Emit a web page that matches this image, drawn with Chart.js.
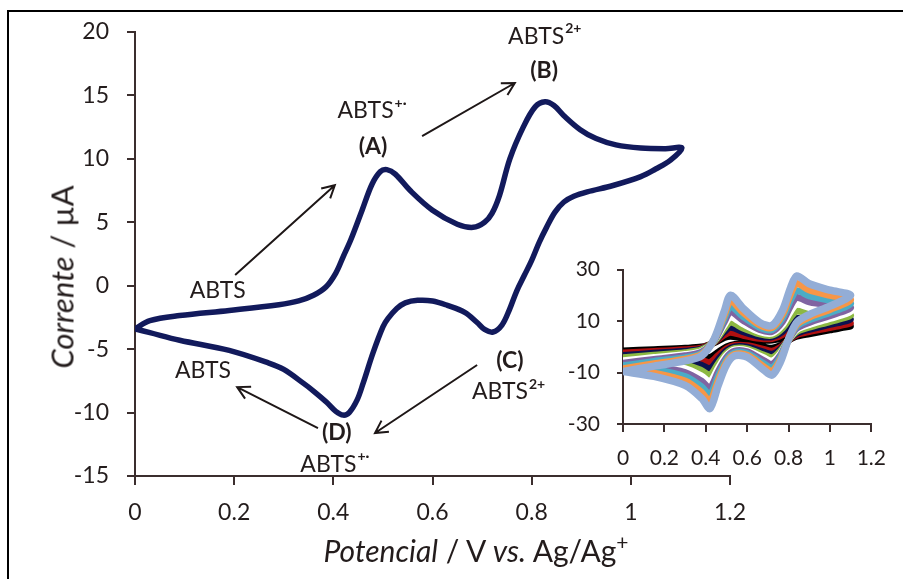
<!DOCTYPE html>
<html>
<head>
<meta charset="utf-8">
<title>Voltametria cíclica ABTS</title>
<script src="https://cdn.jsdelivr.net/npm/chart.js@4.4.0/dist/chart.umd.min.js"></script>
<style>
  body { margin: 0; background: #fff; }
  #wrap { position: relative; width: 903px; height: 579px; overflow: hidden; font-family: Lato, sans-serif; color: #231c1c; }
  #frame { position: absolute; left: 7px; top: 10px; width: 1000px; height: 700px; border: 2px solid #000; }
  canvas { position: absolute; }
  #cvChart { left: 0; top: 0; }
  #insetChart { left: 560px; top: 240px; }
  .axis-title { position: absolute; white-space: nowrap; line-height: 1; }
  #xTitle { left: 476px; top: 535px; font-size: 30px; transform: translateX(-50%); }
  #yTitle { left: 62px; top: 277px; font-size: 31px; transform: translate(-50%, -50%) rotate(-90deg); }
  .axis-title sup { font-size: 0.7em; vertical-align: 0.55em; line-height: 0; }
</style>
</head>
<body>
<div id="wrap">
  <div id="frame"></div>
  <canvas id="cvChart" width="903" height="579"></canvas>
  <canvas id="insetChart" width="340" height="240"></canvas>
  <div id="xTitle" class="axis-title"><i>Potencial</i> / V <i>vs.</i> Ag/Ag<sup>+</sup></div>
  <div id="yTitle" class="axis-title"><i>Corrente</i> / µA</div>
</div>
<script>
// main voltammogram: forward sweep 0 -> 1.1 V, then back to 0 V
const cvPotential = [
  0, 0.03, 0.09, 0.19, 0.29, 0.33, 0.36, 0.385, 0.405, 0.42,
  0.435, 0.458, 0.478, 0.495, 0.508, 0.525, 0.555, 0.6, 0.65, 0.682,
  0.705, 0.72, 0.735, 0.756, 0.783, 0.807, 0.827, 0.845, 0.865, 0.898,
  0.93, 0.97, 1.02, 1.07, 1.103,
  1.08, 1.05, 1.02, 0.964, 0.912, 0.885, 0.865, 0.847, 0.83, 0.815,
  0.8, 0.785, 0.77, 0.755, 0.74, 0.722, 0.705, 0.69, 0.665, 0.63,
  0.6, 0.57, 0.545, 0.528, 0.51, 0.5, 0.48, 0.46, 0.448, 0.432,
  0.42, 0.405, 0.387, 0.36, 0.34, 0.3, 0.27, 0.19, 0.09, 0.03, 0
];
const cvCurrent = [
  -3.4, -2.75, -2.35, -1.95, -1.5, -1.2, -0.75, -0.1, 1.0, 2.3,
  3.6, 5.95, 8.0, 9.0, 9.15, 8.8, 7.5, 5.95, 4.85, 4.6,
  5.0, 5.7, 7.1, 10.0, 12.5, 14.1, 14.5, 14.2, 13.4, 12.3,
  11.6, 11.1, 10.85, 10.8, 10.85,
  9.9, 9.2, 8.6, 7.9, 7.4, 7.05, 6.6, 5.8, 4.6, 3.4,
  2.0, 0.8, -0.4, -1.9, -3.1, -3.65, -3.45, -2.9, -2.1, -1.55,
  -1.2, -1.15, -1.35, -1.8, -2.6, -3.25, -5.3, -7.7, -9.0, -10.0,
  -10.2, -9.9, -9.2, -8.3, -7.7, -6.6, -6.1, -5.1, -4.3, -3.7, -3.4
];

// inset: one cycle per scan rate, all sampled on the same potentials
const insetPotential = [
  0, 0.15, 0.3, 0.38, 0.44, 0.49, 0.52, 0.58, 0.66, 0.72, 0.77, 0.81, 0.84, 0.9, 1.0, 1.1,
  1.0, 0.9, 0.84, 0.8, 0.76, 0.72, 0.68, 0.6, 0.54, 0.5, 0.46, 0.42, 0.38, 0.3, 0.15, 0
];
const insetLightBlue = [
  -9.6, -7.5, -5.5, -3.5, 3, 14, 20, 15, 9.5, 8.3, 14, 23, 27.5, 24.5, 22, 20,
  15.8, 12.5, 9.5, 3, -6, -11, -9, -4, -3.5, -7, -15, -24, -20, -15, -11.5, -9.6
];
const insetOrange = [
  -8.5, -6.6, -4.8, -3.0, 2.8, 12.5, 17.8, 13.4, 8.5, 7.5, 12.5, 20.6, 24.6, 22.1, 20.0, 18.3,
  14.5, 11.5, 8.7, 2.9, -5.1, -9.5, -7.7, -3.3, -2.9, -6.0, -13.2, -21.2, -17.7, -13.3, -10.2, -8.5
];
const insetTeal = [
  -7.4, -5.7, -4.2, -2.6, 2.6, 11.2, 15.7, 11.8, 7.6, 6.7, 11.2, 18.3, 21.8, 19.8, 18.1, 16.8,
  13.3, 10.5, 8.0, 2.9, -4.2, -8.2, -6.6, -2.6, -2.3, -5.1, -11.5, -18.6, -15.6, -11.6, -8.9, -7.4
];
const insetPurple = [
  -6.4, -4.9, -3.5, -2.1, 2.4, 9.8, 13.6, 10.3, 6.7, 6.0, 9.8, 16.0, 19.1, 17.5, 16.2, 15.2,
  12.1, 9.5, 7.3, 2.8, -3.4, -6.8, -5.4, -2.0, -1.7, -4.2, -9.8, -16.0, -13.4, -10.0, -7.7, -6.4
];
const insetWhite = [
  -5.3, -4.1, -2.9, -1.7, 2.2, 8.4, 11.5, 8.8, 5.8, 5.2, 8.4, 13.7, 16.4, 15.2, 14.3, 13.6,
  10.9, 8.5, 6.6, 2.7, -2.6, -5.4, -4.2, -1.4, -1.1, -3.3, -8.1, -13.4, -11.3, -8.4, -6.5, -5.3
];
const insetGreen = [
  -4.3, -3.3, -2.3, -1.2, 2.0, 7.2, 9.6, 7.3, 5.0, 4.5, 7.2, 11.6, 13.9, 13.1, 12.6, 12.2,
  9.8, 7.6, 5.9, 2.7, -1.8, -4.2, -3.2, -0.8, -0.6, -2.5, -6.6, -11.0, -9.3, -6.9, -5.3, -4.3
];
const insetNavy = [
  -3.3, -2.4, -1.6, -0.8, 1.8, 5.8, 7.5, 5.8, 4.0, 3.8, 5.8, 9.4, 11.1, 10.9, 10.7, 10.6,
  8.6, 6.7, 5.2, 2.6, -0.9, -2.8, -2.0, -0.1, 0.0, -1.5, -4.9, -8.4, -7.1, -5.3, -4.1, -3.3
];
const insetRed = [
  -2.3, -1.7, -1.0, -0.4, 1.7, 4.6, 5.6, 4.4, 3.2, 3.1, 4.6, 7.3, 8.6, 8.8, 9.0, 9.2,
  7.4, 5.8, 4.6, 2.6, -0.2, -1.6, -0.9, 0.5, 0.6, -0.7, -3.3, -6.0, -5.2, -3.8, -3.0, -2.3
];
const insetBlack = [
  -1.5, -1, -0.5, 0, 1.5, 3.5, 4, 3.2, 2.5, 2.5, 3.5, 5.5, 6.5, 7, 7.5, 8,
  6.5, 5, 4, 2.5, 0.5, -0.5, 0, 1, 1, 0, -2, -4, -3.5, -2.5, -2, -1.5
];

const axisColor = '#3b2e2e';
const textColor = '#231c1c';
const fontFamily = 'Lato, sans-serif';

function toPoints(xs, ys) {
  return xs.map((x, i) => ({ x: x, y: ys[i] }));
}

// species labels and arrows, placed in (potential, current) coordinates
const noteLabels = [
  { text: 'ABTS', sup: '', x: 0.167, y: -0.42 },
  { text: 'ABTS', sup: '+·', x: 0.465, y: 13.77 },
  { text: '(A)', sup: '', x: 0.480, y: 10.93, bold: true },
  { text: 'ABTS', sup: '2+', x: 0.809, y: 19.61 },
  { text: '(B)', sup: '', x: 0.825, y: 16.92, bold: true },
  { text: 'ABTS', sup: '', x: 0.137, y: -6.72 },
  { text: '(D)', sup: '', x: 0.407, y: -11.61, bold: true },
  { text: 'ABTS', sup: '+·', x: 0.39, y: -14.13 },
  { text: '(C)', sup: '', x: 0.756, y: -5.94, bold: true },
  { text: 'ABTS', sup: '2+', x: 0.736, y: -8.38 }
];
const noteArrows = [
  { from: [0.202, 0.84], to: [0.403, 7.92] },
  { from: [0.579, 11.80], to: [0.766, 15.98] },
  { from: [0.369, -11.22], to: [0.206, -7.99] },
  { from: [0.690, -6.25], to: [0.484, -11.61] }
];

const notesPlugin = {
  id: 'notes',
  afterDatasetsDraw(chart) {
    const ctx = chart.ctx;
    const xs = chart.scales.x, ys = chart.scales.y;
    ctx.save();
    ctx.fillStyle = textColor;
    ctx.strokeStyle = '#1e1717';
    ctx.lineWidth = 2;
    ctx.textBaseline = 'middle';
    noteLabels.forEach(n => {
      const px = xs.getPixelForValue(n.x), py = ys.getPixelForValue(n.y);
      ctx.font = (n.bold ? 'bold ' : '') + '23px ' + fontFamily;
      ctx.textAlign = 'center';
      ctx.fillText(n.text, px, py);
      if (n.sup) {
        const w = ctx.measureText(n.text).width;
        ctx.font = 'bold 14px ' + fontFamily;
        ctx.textAlign = 'left';
        ctx.fillText(n.sup, px + w / 2 + 1, py - 8);
      }
    });
    noteArrows.forEach(a => {
      const x1 = xs.getPixelForValue(a.from[0]), y1 = ys.getPixelForValue(a.from[1]);
      const x2 = xs.getPixelForValue(a.to[0]), y2 = ys.getPixelForValue(a.to[1]);
      const ang = Math.atan2(y2 - y1, x2 - x1);
      const head = 14, spread = 0.5;
      ctx.beginPath();
      ctx.moveTo(x1, y1);
      ctx.lineTo(x2, y2);
      ctx.moveTo(x2 - head * Math.cos(ang - spread), y2 - head * Math.sin(ang - spread));
      ctx.lineTo(x2, y2);
      ctx.lineTo(x2 - head * Math.cos(ang + spread), y2 - head * Math.sin(ang + spread));
      ctx.stroke();
    });
    ctx.restore();
  }
};

function axisOptions(min, max, step, fontSize, tickLen, pad, fit) {
  return {
    type: 'linear',
    min: min,
    max: max,
    afterFit: fit,
    ticks: {
      stepSize: step,
      color: textColor,
      padding: pad,
      font: { family: fontFamily, size: fontSize },
      callback: v => +v.toFixed(1)
    },
    grid: { drawOnChartArea: false, drawTicks: true, tickLength: tickLen, color: axisColor, lineWidth: 2 },
    border: { display: true, color: axisColor, width: 2 }
  };
}

new Chart(document.getElementById('cvChart'), {
  type: 'scatter',
  data: {
    datasets: [{
      data: toPoints(cvPotential, cvCurrent),
      showLine: true,
      borderColor: '#121a5c',
      borderWidth: 5.5,
      borderJoinStyle: 'round',
      pointRadius: 0,
      tension: 0.35
    }]
  },
  options: {
    responsive: false,
    animation: false,
    devicePixelRatio: 1,
    layout: { padding: { left: 0, top: 32, right: 173, bottom: 0 } },
    plugins: { legend: { display: false }, tooltip: { enabled: false } },
    scales: {
      x: axisOptions(0, 1.2, 0.2, 23, 9, 14, s => { s.height = 103; }),
      y: axisOptions(-15, 20, 5, 23, 8, 18, s => { s.width = 135; })
    }
  },
  plugins: [notesPlugin]
});

// scan-rate series, largest first so it ends up on top
const insetSeries = [
  { values: insetLightBlue, color: '#93add6', width: 7.5 },
  { values: insetOrange, color: '#f79646', width: 7 },
  { values: insetTeal, color: '#4bacc6', width: 7 },
  { values: insetPurple, color: '#8064a2', width: 7 },
  { values: insetWhite, color: '#ffffff', width: 6.5 },
  { values: insetGreen, color: '#8cb842', width: 7 },
  { values: insetNavy, color: '#0c1250', width: 6.5 },
  { values: insetRed, color: '#b01010', width: 6.5 },
  { values: insetBlack, color: '#000000', width: 6.5 }
];

new Chart(document.getElementById('insetChart'), {
  type: 'scatter',
  data: {
    datasets: insetSeries.map(s => ({
      data: toPoints(insetPotential, s.values),
      showLine: true,
      borderColor: s.color,
      borderWidth: s.width,
      borderJoinStyle: 'round',
      pointRadius: 0,
      tension: 0.3
    }))
  },
  options: {
    responsive: false,
    animation: false,
    devicePixelRatio: 1,
    layout: { padding: { left: 0, top: 22, right: 20, bottom: 0 } },
    plugins: { legend: { display: false }, tooltip: { enabled: false } },
    scales: {
      x: axisOptions(0, 1.2, 0.2, 21, 8, 14, s => { s.height = 56; }),
      y: axisOptions(-30, 30, 20, 21, 6, 17, s => { s.width = 63; })
    }
  }
});
</script>
</body>
</html>
